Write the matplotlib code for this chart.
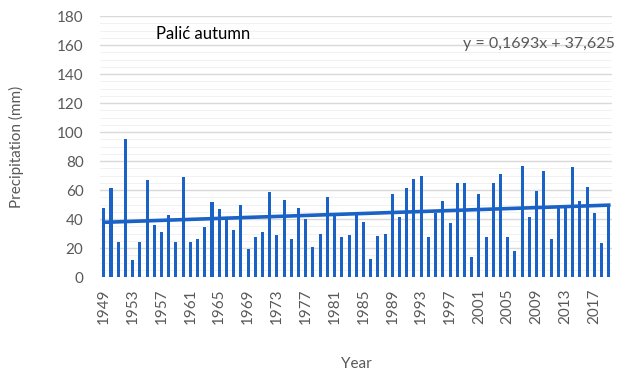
import matplotlib.pyplot as plt
import numpy as np

# Palić autumn precipitation, 1949-2019
years = list(range(1949, 2020))
precip = [47.6, 61.4, 24, 95, 11.7, 24, 67, 36, 31, 43, 24, 69,
          24.3, 26.2, 34.7, 51.9, 46.7, 40, 32.4, 49.7, 19.3, 27.4, 31, 58.4,
          29, 53, 26.2, 47.4, 40, 20.5, 29.9, 55.4, 42.8, 27.4, 29, 42.8,
          38.2, 12.2, 28.3, 29.4, 57.2, 41.2, 61.6, 67.6, 69.7, 27.4, 44.4, 52.6,
          37.5, 65, 64.6, 14, 57, 27.4, 65, 71, 27.8, 18.1, 76.8, 41.6,
          59.5, 73.1, 26, 48, 49, 76, 52.6, 62.3, 44, 23.7, 49.5]
tick_years = list(range(1949, 2018, 4))

# linear trend as printed on the chart (x = 1..n)
slope = 0.1693
intercept = 37.625
eq_label = 'y = 0,1693x + 37,625'

plt.rcParams['font.family'] = ['Lato', 'DejaVu Sans']
blue = '#1a62c6'
grey = '#595959'

fig = plt.figure(figsize=(6.3, 3.75), dpi=100)
ax = fig.add_axes([0.159, 0.261, 0.813, 0.696])

ax.set_axisbelow(True)
ax.bar(years, precip, width=0.42, color=blue, zorder=2)

idx = np.arange(1, len(years) + 1)
ax.plot(years, intercept + slope * idx, color=blue, linewidth=2.6, zorder=3)

ax.set_xlim(years[0] - 0.5, years[-1] + 0.5)
ax.set_ylim(0, 180)
ax.set_yticks(range(0, 181, 20))
ax.set_yticks(range(0, 181, 5), minor=True)
ax.set_xticks(tick_years)
ax.set_xticklabels([str(y) for y in tick_years], rotation=90)

ax.grid(axis='y', which='major', color='#d9d9d9', linewidth=1.0)
ax.grid(axis='y', which='minor', color='#efefef', linewidth=0.6)
for s in ax.spines.values():
    s.set_visible(False)
ax.tick_params(axis='both', which='both', length=0, colors=grey, labelsize=11)
ax.tick_params(axis='x', pad=8)
ax.tick_params(axis='y', pad=12)

ax.text(1956.3, 168, 'Palić autumn', fontsize=12, color='black', va='center')
ax.text(2019.9, 161, eq_label, fontsize=11.5, color=grey, va='center', ha='right')

ax.set_ylabel('Precipitation (mm)', fontsize=11, color=grey, labelpad=24)
ax.set_xlabel('Year', fontsize=11, color=grey, labelpad=24)

fig.savefig('out.png', dpi=100)
